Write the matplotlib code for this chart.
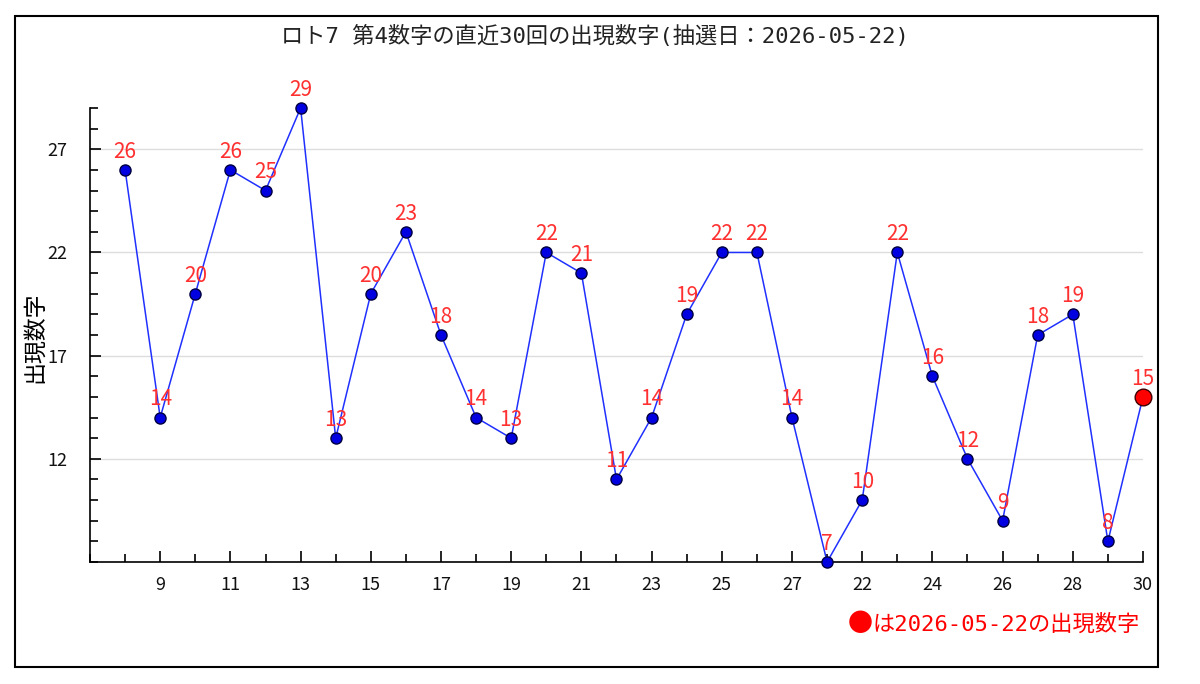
import matplotlib.pyplot as plt
from matplotlib.patches import Rectangle
from matplotlib.ticker import MultipleLocator

plt.rcParams['font.family'] = ['Noto Sans CJK JP', 'DejaVu Sans']
mono = ['DejaVu Sans Mono', 'Noto Sans CJK JP']

# 第4数字の直近30回
values = [26, 14, 20, 26, 25, 29, 13, 20, 23, 18, 14, 13, 22, 21, 11,
          14, 19, 22, 22, 14, 7, 10, 22, 16, 12, 9, 18, 19, 8, 15]
tick_pos = [2, 4, 6, 8, 10, 12, 14, 16, 18, 20, 22, 24, 26, 28, 30]
tick_labels = ['9', '11', '13', '15', '17', '19', '21', '23', '25', '27',
               '22', '24', '26', '28', '30']
y_major = [12, 17, 22, 27]
title = 'ロト7 第4数字の直近30回の出現数字(抽選日：2026-05-22)'
draw_date = '2026-05-22'

x = list(range(1, len(values) + 1))

fig = plt.figure(figsize=(12, 6.84), dpi=100)
fig.patches.append(Rectangle((15 / 1200, 1 - 667 / 684), (1158 - 15) / 1200, (667 - 16) / 684,
                             transform=fig.transFigure, fill=False, edgecolor='black', linewidth=1.5))
ax = fig.add_axes([90 / 1200, 1 - 562 / 684, (1143 - 90) / 1200, (562 - 108) / 684])

ax.plot(x, values, color='#2030ff', linewidth=1.1, zorder=2, clip_on=False)
ax.plot(x[:-1], values[:-1], 'o', color='#0000e0', markeredgecolor='#000040',
        markersize=8, linestyle='none', zorder=3, clip_on=False)
ax.plot(x[-1:], values[-1:], 'o', color='#ff0000', markeredgecolor='#400000',
        markersize=12, linestyle='none', zorder=3, clip_on=False)

# 数字ラベル
for xi, v in zip(x, values):
    ax.annotate(str(v), (xi, v), xytext=(0, 13), textcoords='offset points',
                ha='center', va='center', color='#ff3030', fontsize=15, zorder=4)

ax.set_xlim(0, 30)
ax.set_ylim(7, 29)
ax.set_xticks(tick_pos)
ax.set_xticklabels(tick_labels, fontsize=13, color='#111111')
ax.xaxis.set_minor_locator(MultipleLocator(1))
ax.set_yticks(y_major)
ax.set_yticklabels([str(t) for t in y_major], fontsize=13, color='#111111')
ax.yaxis.set_minor_locator(MultipleLocator(1))
ax.tick_params(direction='in', length=8, width=1.2)
ax.tick_params(axis='y', pad=16)
ax.tick_params(axis='x', pad=10)
ax.tick_params(which='minor', direction='in', length=6, width=1.2)
ax.grid(axis='y', color='#dddddd', linewidth=1)
ax.set_axisbelow(True)

for side in ['top', 'right']:
    ax.spines[side].set_visible(False)
for side in ['left', 'bottom']:
    ax.spines[side].set_linewidth(1.2)

fig.text(35 / 1200, 1 - 337 / 684, '出現数字', rotation=90, ha='center', va='center', fontsize=16.5)
fig.text(595 / 1200, 1 - 36 / 684, title, ha='center', va='center', fontsize=16,
         color='#222222', family=mono)
note = fig.text(1140 / 1200, 1 - 624 / 684, 'は' + draw_date + 'の出現数字', ha='right', va='center',
                fontsize=16, color='#ff0000', family=mono)
ax.annotate('●', xy=(0, 0.5), xycoords=note, ha='right', va='center',
            fontsize=18, color='#ff0000', family=['Noto Sans CJK JP'])

fig.savefig('out.png', dpi=100)
